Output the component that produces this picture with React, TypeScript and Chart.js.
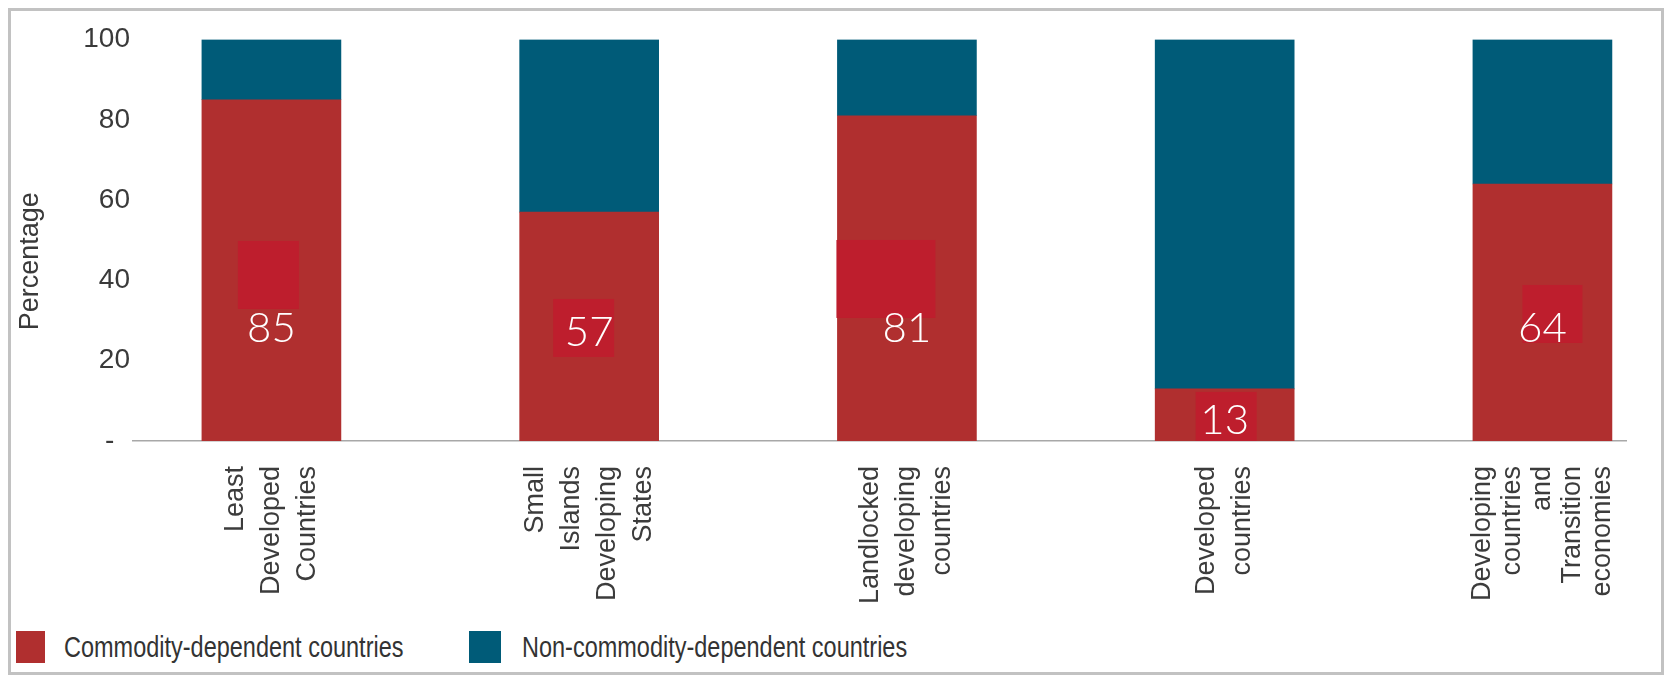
import React, { useEffect, useRef } from 'react';
import { Chart, registerables } from 'chart.js';

Chart.register(...registerables);

// ---------- data ----------
const categories: string[][] = [
  ['Least', 'Developed', 'Countries'],
  ['Small', 'Islands', 'Developing', 'States'],
  ['Landlocked', 'developing', 'countries'],
  ['Developed', 'countries'],
  ['Developing', 'countries', 'and', 'Transition', 'economies'],
];
const commodityDependent: number[] = [85, 57, 81, 13, 64];
const nonCommodityDependent: number[] = [15, 43, 19, 87, 36];
const yTickValues: number[] = [0, 20, 40, 60, 80, 100];
const yTickLabels: string[] = ['-  ', '20', '40', '60', '80', '100'];
const seriesNames: string[] = ['Commodity-dependent countries', 'Non-commodity-dependent countries'];
const yTitle = 'Percentage';

// ---------- styles ----------
const RED = '#B02F2F';
const BLUE = '#005B78';
const BOX_RED = '#BE1E2D';
const ARIAL = "'Liberation Sans', Arial, sans-serif";
const LABEL_FONT = "Lato, 'Open Sans', Roboto, sans-serif";
const X_MIN = -0.4356;
const X_MAX = 4.263;
const lineHeightFor = (n: number) => (n >= 5 ? 30 : 36);
// value-label anchor (in axis units): fixed height, lowered for short bars
const labelAnchor = (v: number) => Math.min(28, v / 2 - 1.5);
// decorative highlight boxes behind the value labels (offsets relative to label centre)
const labelBoxes = [
  { dx: -3, dy: -53.6, w: 61, h: 68 },
  { dx: -5.5, dy: -4.6, w: 61, h: 58 },
  { dx: -21, dy: -49.6, w: 99, h: 78 },
  { dx: 1.5, dy: 0, w: 61, h: 58 },
  { dx: 10, dy: -14.6, w: 60, h: 58 },
];

const overlayPlugin = {
  id: 'overlay',
  afterDatasetsDraw(chart: any) {
    const { ctx, chartArea } = chart;
    const yScale = chart.scales.y;
    const meta = chart.getDatasetMeta(0);
    ctx.save();
    ctx.beginPath();
    ctx.rect(chartArea.left - 200, chartArea.top, chartArea.width + 400, chartArea.height);
    ctx.clip();
    meta.data.forEach((bar: any, i: number) => {
      const v = commodityDependent[i];
      const cx = bar.x;
      const cy = yScale.getPixelForValue(labelAnchor(v));
      const b = labelBoxes[i];
      ctx.fillStyle = BOX_RED;
      ctx.fillRect(cx + b.dx - b.w / 2, cy + b.dy - b.h / 2, b.w, b.h);
      ctx.fillStyle = '#FFFFFF';
      ctx.font = `300 42px ${LABEL_FONT}`;
      ctx.textAlign = 'center';
      ctx.textBaseline = 'middle';
      ctx.fillText(String(v), cx, cy);
    });
    ctx.restore();

    // y-axis title
    ctx.save();
    ctx.translate(chartArea.left - 102.5, (chartArea.top + chartArea.bottom) / 2 + 21);
    ctx.rotate(-Math.PI / 2);
    ctx.font = `27px ${ARIAL}`;
    ctx.fillStyle = '#3A3A3A';
    ctx.textAlign = 'center';
    ctx.textBaseline = 'middle';
    ctx.fillText(yTitle, 0, 0);
    ctx.restore();
  },
};

export default function App() {
  const canvasRef = useRef<HTMLCanvasElement | null>(null);

  useEffect(() => {
    const canvas = canvasRef.current;
    if (!canvas) return;
    const chart = new Chart(canvas, {
      type: 'bar',
      data: {
        datasets: [
          {
            label: seriesNames[0],
            data: commodityDependent.map((v, i) => ({ x: i, y: v })),
            backgroundColor: RED,
            borderWidth: 0,
            barThickness: 139,
          },
          {
            label: seriesNames[1],
            data: nonCommodityDependent.map((v, i) => ({ x: i, y: v })),
            backgroundColor: BLUE,
            borderWidth: 0,
            barThickness: 139,
          },
        ],
      },
      options: {
        responsive: false,
        animation: false,
        layout: { padding: { top: 28.5, right: 35, bottom: 0, left: 0 } },
        plugins: {
          legend: { display: false },
          tooltip: { enabled: false },
        },
        scales: {
          x: {
            type: 'linear',
            min: X_MIN,
            max: X_MAX,
            bounds: 'data',
            offset: false,
            stacked: true,
            grid: { display: false, drawTicks: false, offset: false },
            border: { display: true, color: '#A8A8A8', width: 1.5 },
            afterBuildTicks: (scale: any) => {
              const ppu = (scale.width || 1493) / (scale.max - scale.min);
              scale.ticks = categories.map((lines, i) => ({
                value: i - ((lines.length - 1) / 2) * lineHeightFor(lines.length) / ppu,
              }));
            },
            afterFit: (scale: any) => {
              scale.height = 180;
            },
            ticks: {
              autoSkip: false,
              minRotation: 90,
              maxRotation: 90,
              padding: 25,
              color: '#3C3C3C',
              font: (ctx: any) => {
                const n = categories[ctx.index] ? categories[ctx.index].length : 3;
                return { family: ARIAL, size: 27, lineHeight: lineHeightFor(n) / 27 };
              },
              callback: (_v: any, i: number) => categories[i],
            },
          } as any,
          y: {
            min: 0,
            max: 100,
            stacked: true,
            grid: { display: false, drawTicks: false },
            border: { display: false },
            afterBuildTicks: (scale: any) => {
              scale.ticks = yTickValues.map((v) => ({ value: v }));
            },
            afterFit: (scale: any) => {
              scale.width = 122;
            },
            ticks: {
              padding: 3,
              color: '#3A3A3A',
              font: { family: ARIAL, size: 28 },
              callback: (v: any) => yTickLabels[yTickValues.indexOf(Number(v))],
            },
          },
        },
      } as any,
      plugins: [overlayPlugin],
    });
    return () => chart.destroy();
  }, []);

  const legendText: React.CSSProperties = {
    fontFamily: ARIAL,
    fontSize: 29,
    color: '#333333',
    whiteSpace: 'nowrap',
    lineHeight: '32px',
    display: 'inline-block',
    transform: 'scaleX(0.81)',
    transformOrigin: 'left center',
  };

  return (
    <div
      style={{
        width: 1650,
        height: 661,
        border: '3px solid #C2C2C2',
        background: '#FFFFFF',
        position: 'relative',
      }}
    >
      <canvas ref={canvasRef} width={1650} height={610} style={{ display: 'block' }} />
      <div style={{ position: 'absolute', left: 5, top: 620, height: 32, display: 'flex', alignItems: 'center' }}>
        <div style={{ width: 29, height: 32, background: RED }} />
        <span style={{ ...legendText, marginLeft: 19 }}>{seriesNames[0]}</span>
      </div>
      <div style={{ position: 'absolute', left: 458, top: 620, height: 32, display: 'flex', alignItems: 'center' }}>
        <div style={{ width: 32, height: 32, background: BLUE }} />
        <span style={{ ...legendText, marginLeft: 21 }}>{seriesNames[1]}</span>
      </div>
    </div>
  );
}
